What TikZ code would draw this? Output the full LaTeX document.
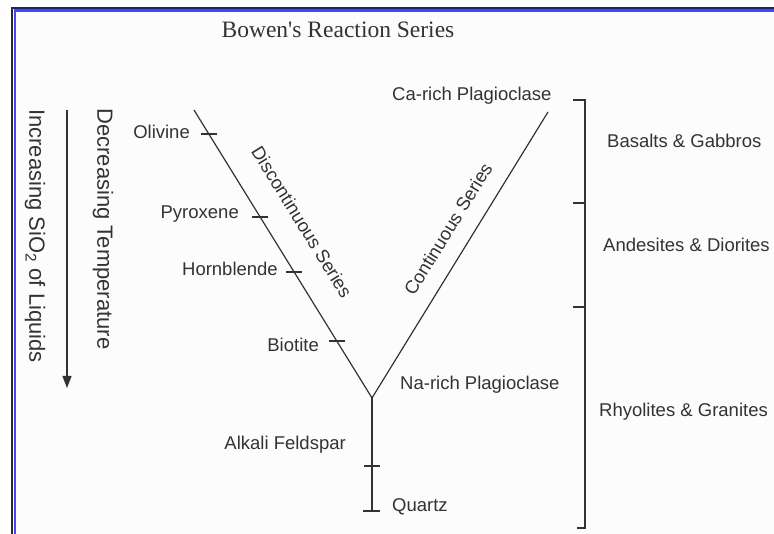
\documentclass[tikz,border=0pt]{standalone}
\usepackage{fontspec}
\setmainfont{Liberation Sans}
\newfontfamily\titlefont{Liberation Serif}
\usetikzlibrary{arrows.meta,calc}
\definecolor{ink}{HTML}{333333}
\definecolor{frameblue}{HTML}{4646F5}
\definecolor{framedark}{HTML}{2A2A2A}
\definecolor{paper}{HTML}{FCFCFC}
\tikzset{
  lbl/.style={font=\fontsize{18.5}{20}\selectfont, text=ink, inner sep=0pt},
  vlbl/.style={font=\fontsize{22}{24}\selectfont, text=ink, inner sep=0pt, rotate=-90},
  serieslbl/.style={font=\fontsize{18.5}{20}\selectfont, text=ink, inner sep=0pt},
  series/.style={draw=ink, line width=1.2pt},
  tickmark/.style={draw=ink, line width=1.2pt},
  bracketline/.style={draw=ink, line width=1.3pt},
}
\begin{document}
\begin{tikzpicture}[x=1pt,y=-1pt]
\useasboundingbox (0,0) rectangle (774,534);
\fill[white] (0,0) rectangle (774,534);
\fill[paper] (12,8) rectangle (774,534);
% frame
\draw[framedark, line width=2pt] (12,534) -- (12,8.3) -- (774,8.3);
\draw[frameblue, line width=2.3pt] (14.7,534) -- (14.7,10.5) -- (774,10.5);

% title
\node[font=\titlefont\fontsize{23.5}{26}\selectfont, text=ink, inner sep=0pt] (title) at (338,30) {Bowen's Reaction Series};

% series lines
\coordinate (dtop) at (194,110);
\coordinate (junc) at (372,398);
\coordinate (ctop) at (548,112);
\coordinate (qbot) at (372,511);
\coordinate (afk) at (372,466);
\draw[series] (dtop) -- (junc) -- (ctop);
\draw[series] (junc) -- (qbot);

% ticks on discontinuous series
\foreach \p/\n in {0.0833/tol, 0.3715/tpy, 0.5625/thb, 0.8021/tbi} {
  \coordinate (\n) at ($(dtop)!\p!(junc)$);
  \draw[tickmark] ([xshift=-8pt]\n) -- ([xshift=8pt]\n);
}
\draw[tickmark] ([xshift=-8pt]afk) -- ([xshift=8pt]afk);
\draw[tickmark] ([xshift=-9pt]qbot) -- ([xshift=8pt]qbot);

% mineral labels
\node[lbl, anchor=east] (olivine) at (190,132) {Olivine};
\node[lbl, anchor=east] (pyroxene) at (239,214) {Pyroxene};
\node[lbl, anchor=east] (hornblende) at (278,269) {Hornblende};
\node[lbl, anchor=east] (biotite) at (319,345) {Biotite};
\node[lbl, anchor=east] (alkali) at (346,445) {Alkali Feldspar};
\node[lbl, anchor=west] (quartz) at (392,507) {Quartz};
\node[lbl, anchor=west] (narich) at (400,385) {Na-rich Plagioclase};
\node[lbl, anchor=west] (carich) at (392,96) {Ca-rich Plagioclase};

% series labels
\node[serieslbl, rotate=-58.3] (disc) at (302,222) {Discontinuous Series};
\node[serieslbl, rotate=58.4] (cont) at (448,229) {Continuous Series};

% rock bracket
\draw[bracketline] (573,100) -- (585,100) -- (585,528) -- (577,528);
\draw[bracketline] (573,203) -- (585,203);
\draw[bracketline] (573,307) -- (585,307);
\node[lbl, anchor=west] (basalt) at (607,141) {Basalts \& Gabbros};
\node[lbl, anchor=west] (andesite) at (603,245) {Andesites \& Diorites};
\node[lbl, anchor=west] (rhyolite) at (599,412) {Rhyolites \& Granites};

% left arrow and vertical labels
\coordinate (atop) at (67,110);
\coordinate (abot) at (67,388);
\draw[draw=ink, line width=1.2pt, -{Triangle[width=9pt,length=12pt]}] (atop) -- (abot);
\node[vlbl] (dectemp) at (103,229) {Decreasing Temperature};
\node[vlbl] (incsio) at (35,236) {Increasing SiO\textsubscript{2} of Liquids};
\end{tikzpicture}
\end{document}
